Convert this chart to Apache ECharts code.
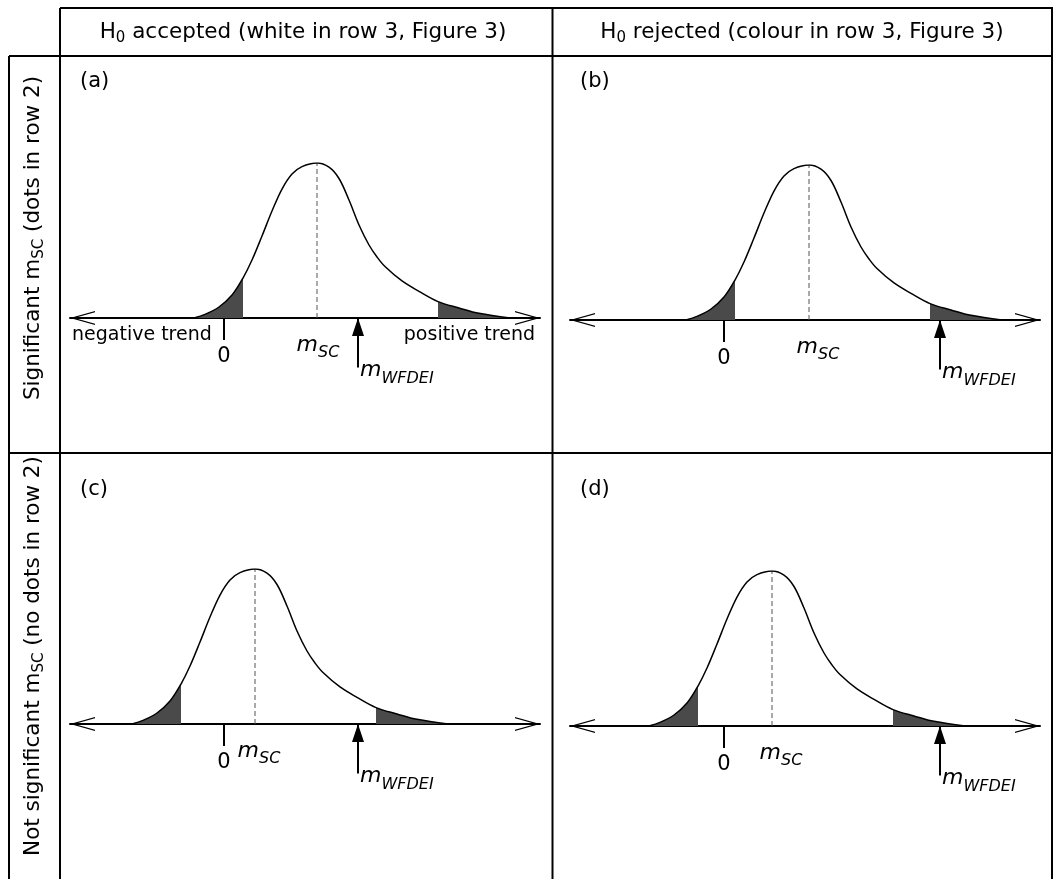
<!DOCTYPE html>
<html>
<head>
<meta charset="utf-8">
<script src="https://cdn.jsdelivr.net/npm/echarts@6/dist/echarts.min.js"></script>
<style>
  html, body { margin: 0; padding: 0; background: #fff; }
  #chart { width: 1053px; height: 879px; }
</style>
</head>
<body>
<div id="chart"></div>
<script>
const FONT = 'DejaVu Sans';

// ---- data ----
const panelLetters = ['(a)', '(b)', '(c)', '(d)'];
const columnTitles = [' accepted (white in row 3, Figure 3)', ' rejected (colour in row 3, Figure 3)'];
const rowTitles = [['Significant m', ' (dots in row 2)'], ['Not significant m', ' (no dots in row 2)']];

// shape of the schematic m_SC distribution: offset from its mode, relative density
const densityDx = [-12.3, -11.2, -9.8, -8.5, -7.4, -6.5, -5.5, -4.5, -3.5, -2.5, -1.5, 0,
  1.2, 2.2, 3.2, 4.2, 5.2, 6.0, 6.8, 8.5, 10.2, 12.1, 14.2, 16.2, 19.3];
const densityValues = [0, 0.023, 0.071, 0.148, 0.258, 0.374, 0.529, 0.69, 0.832, 0.929, 0.977, 1,
  0.973, 0.9, 0.761, 0.6, 0.471, 0.394, 0.332, 0.239, 0.172, 0.106, 0.065, 0.03, 0];
const lowerCritDx = -7.4;   // lower tail edge, from mode
const upperCritDx = 12.1;   // upper tail edge, from mode

const modeValues = [9.3, 8.5, 3.1, 4.8];      // m_SC per panel
const wfdeiValues = [13.4, 21.6, 13.4, 21.6];  // m_WFDEI per panel
const xRange = [-15.4, 31.6];
const zeroTicks = [0];

// ---- layout ----
const panelLayout = [
  { left: 70,  axisY: 318, letterX: 80,  letterY: 82,  mscShift: 1 },
  { left: 570, axisY: 320, letterX: 580, letterY: 82,  mscShift: 9 },
  { left: 70,  axisY: 724, letterX: 80,  letterY: 490, mscShift: 4 },
  { left: 570, axisY: 726, letterX: 580, letterY: 490, mscShift: 9 }
];
const CURVE_H = 155;
const AXIS_W = 470;
const ARROW_LEN = 0.32;
const shadeColor = '#4a4a4a';
const chevron = 'path://M7,0L14,25L12.75,25L7,4.45L1.25,25L0,25Z';

const mathRich = {
  m: { fontFamily: FONT, fontStyle: 'italic', fontSize: 22, color: '#000' },
  s: { fontFamily: FONT, fontStyle: 'italic', fontSize: 16, color: '#000', padding: [16, 0, 0, 0] }
};
const textRich = {
  t: { fontFamily: FONT, fontSize: 21.5, color: '#000' },
  s: { fontFamily: FONT, fontSize: 15, color: '#000', padding: [12, 0, 0, 0] }
};

const grids = [], xAxes = [], yAxes = [], series = [], visualMaps = [];

panelLayout.forEach((p, i) => {
  const msc = modeValues[i];
  const mw = wfdeiValues[i];
  grids.push({ left: p.left, width: AXIS_W, top: p.axisY - CURVE_H, height: CURVE_H, outerBoundsMode: 'none' });
  xAxes.push({
    gridIndex: i, type: 'value', min: xRange[0], max: xRange[1],
    splitLine: { show: false },
    axisLine: {
      show: true, onZero: false,
      lineStyle: { color: '#000', width: 2 },
      symbol: [chevron, chevron], symbolSize: [14, 25], symbolOffset: [12.5, -12.5]
    },
    axisTick: { show: true, customValues: zeroTicks, length: 22, lineStyle: { color: '#000', width: 2 } },
    axisLabel: { show: true, customValues: zeroTicks, margin: 28, fontFamily: FONT, fontSize: 21, color: '#000' }
  });
  yAxes.push({ gridIndex: i, type: 'value', min: 0, max: 1, show: false });

  series.push({
    type: 'line', xAxisIndex: i, yAxisIndex: i, smooth: 0.35, symbol: 'none', z: 3,
    data: densityDx.map((d, k) => [msc + d, densityValues[k]]),
    lineStyle: { color: '#000', width: 1.5 },
    areaStyle: { opacity: 1 }
  });
  series.push({
    type: 'line', xAxisIndex: i, yAxisIndex: i, symbol: 'none', z: 2,
    data: [[msc, 0], [msc, 1]],
    lineStyle: { color: '#555', width: 1, type: [5, 3] }
  });
  series.push({
    type: 'line', xAxisIndex: i, yAxisIndex: i, clip: false, z: 4,
    lineStyle: { color: '#000', width: 2 }, itemStyle: { color: '#000' },
    data: [
      { value: [mw, 0], symbol: 'triangle', symbolSize: [12, 18], symbolOffset: [0, 9] },
      { value: [mw, -ARROW_LEN], symbol: 'none' }
    ]
  });
  const notes = [{
    value: [msc, 0],
    label: { show: true, position: 'bottom', distance: 11, offset: [p.mscShift, 0],
             formatter: '{m|m}{s|SC}', rich: mathRich }
  }, {
    value: [mw, -ARROW_LEN],
    label: { show: true, position: 'right', distance: 2, offset: [0, 3],
             formatter: '{m|m}{s|WFDEI}', rich: mathRich }
  }];
  if (i === 0) {
    notes.push({ value: [xRange[0], 0],
      label: { show: true, position: 'bottom', align: 'left', distance: 8, offset: [2, 0],
               formatter: 'negative trend', fontFamily: FONT, fontSize: 19, color: '#000' } });
    notes.push({ value: [xRange[1], 0],
      label: { show: true, position: 'bottom', align: 'right', distance: 8, offset: [-5, 0],
               formatter: 'positive trend', fontFamily: FONT, fontSize: 19, color: '#000' } });
  }
  series.push({
    type: 'scatter', xAxisIndex: i, yAxisIndex: i, symbolSize: 0, silent: true, clip: false, z: 5,
    itemStyle: { opacity: 1, color: '#000' },
    data: notes
  });

  visualMaps.push({
    type: 'piecewise', show: false, seriesIndex: i * 4, dimension: 0,
    pieces: [
      { lt: msc + lowerCritDx, color: shadeColor },
      { gte: msc + lowerCritDx, lt: msc + upperCritDx, color: 'rgba(255,255,255,0)' },
      { gte: msc + upperCritDx, color: shadeColor }
    ]
  });
});

// table frame and headings
const frame = [
  [60, 8, 1053, 8], [9, 56, 1053, 56], [9, 453, 1053, 453],
  [60, 8, 60, 879], [552.5, 8, 552.5, 879], [9, 56, 9, 879], [1052, 8, 1052, 879]
];
const graphic = frame.map(f => ({
  type: 'line', shape: { x1: f[0], y1: f[1], x2: f[2], y2: f[3] },
  style: { stroke: '#000', lineWidth: 2 }, silent: true
}));
columnTitles.forEach((t, c) => {
  graphic.push({
    type: 'text', x: c === 0 ? 303 : 802, y: 32,
    style: { text: '{t|H}{s|0}{t|' + t + '}', rich: textRich, align: 'center', verticalAlign: 'middle' }
  });
});
rowTitles.forEach((t, r) => {
  graphic.push({
    type: 'text', x: 33, y: r === 0 ? 238 : 656, rotation: Math.PI / 2,
    style: { text: '{t|' + t[0] + '}{s|SC}{t|' + t[1] + '}', rich: textRich, align: 'center', verticalAlign: 'middle' }
  });
});
panelLayout.forEach((p, i) => {
  graphic.push({
    type: 'text', x: p.letterX, y: p.letterY,
    style: { text: panelLetters[i], fontFamily: FONT, fontSize: 21, fill: '#000', align: 'left', verticalAlign: 'middle' }
  });
});

const chart = echarts.init(document.getElementById('chart'));
chart.setOption({
  backgroundColor: '#fff',
  animation: false,
  grid: grids,
  xAxis: xAxes,
  yAxis: yAxes,
  visualMap: visualMaps,
  series: series,
  graphic: graphic
});
</script>
</body>
</html>
